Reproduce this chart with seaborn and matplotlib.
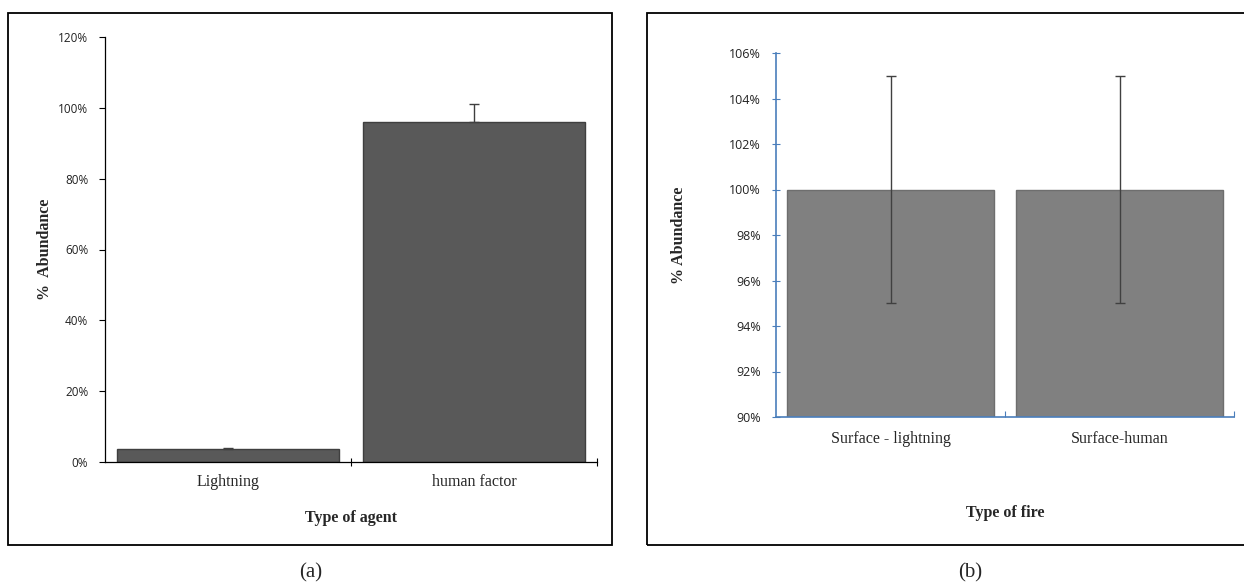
import numpy as np
import pandas as pd
import matplotlib
matplotlib.use("Agg")
import matplotlib.pyplot as plt
from matplotlib.patches import Rectangle
from matplotlib.ticker import FuncFormatter, FixedLocator
import seaborn as sns

# panel (a) data
agents = ["Lightning", "human factor"]
abundance_agent = [3.7, 96.0]
err_agent = [0.3, 5.0]

# panel (b) data
fire_types = ["Surface - lightning", "Surface-human"]
abundance_fire = [100.0, 100.0]
err_fire = [5.0, 5.0]

sns.set_theme(style="white")
plt.rcParams["font.family"] = ["Open Sans", "DejaVu Sans"]
SERIF = ["Liberation Serif", "DejaVu Serif"]

W, H = 1244, 585
fig = plt.figure(figsize=(W / 100, H / 100), dpi=100)
fig.patch.set_facecolor("white")

def px_axes(l, r, t, b):
    return fig.add_axes([l / W, 1 - b / H, (r - l) / W, (b - t) / H])

# frames around the two panels
for x0, x1 in [(8, 612), (647, 1246)]:
    fig.patches.append(Rectangle((x0 / W, 1 - 545 / H), (x1 - x0) / W, (545 - 13) / H,
                                 transform=fig.transFigure, fill=False,
                                 edgecolor="black", linewidth=1.3))

pct = FuncFormatter(lambda v, p: f"{v:.0f}%")

# ---- (a)
ax1 = px_axes(105, 597, 37, 462)
df_a = pd.DataFrame({"agent": agents, "abundance": abundance_agent})
sns.barplot(data=df_a, x="agent", y="abundance", color="#595959", saturation=1,
            width=0.9, edgecolor="#3f3f3f", linewidth=1, ax=ax1)
ax1.errorbar(range(len(agents)), abundance_agent,
             yerr=[np.zeros(len(agents)), err_agent], fmt="none",
             ecolor="#3f3f3f", elinewidth=1, capsize=3.5, capthick=1)
ax1.set_xlim(-0.5, 1.5)
ax1.set_ylim(0, 120)
ax1.set_yticks(range(0, 121, 20))
ax1.yaxis.set_major_formatter(pct)
ax1.tick_params(axis="y", direction="out", length=4, width=0.8, color="black",
                labelsize=8.5, pad=8, left=True, labelcolor="#222222")
ax1.tick_params(axis="x", length=0, pad=9)
ax1.xaxis.set_minor_locator(FixedLocator([0.5, 1.5]))
ax1.tick_params(axis="x", which="minor", direction="inout", length=6, width=0.8,
                color="black", bottom=True)
for lab in ax1.get_xticklabels():
    lab.set_family(SERIF)
    lab.set_fontsize(11.5)
for s in ["top", "right"]:
    ax1.spines[s].set_visible(False)
for s in ["left", "bottom"]:
    ax1.spines[s].set_color("black")
    ax1.spines[s].set_linewidth(0.9)
ax1.set_xlabel("Type of agent", family=SERIF, fontsize=11.5, fontweight="bold", labelpad=14)
ax1.set_ylabel("%  Abundance", family=SERIF, fontsize=11.5, fontweight="bold", labelpad=4)

# ---- (b)
blue = "#4A7EBB"
ax2 = px_axes(776, 1234, 53, 417)
df_b = pd.DataFrame({"fire": fire_types, "abundance": abundance_fire})
sns.barplot(data=df_b, x="fire", y="abundance", color="#808080", saturation=1,
            width=0.9, edgecolor="#6e6e6e", linewidth=1, ax=ax2)
ax2.errorbar(range(len(fire_types)), abundance_fire, yerr=err_fire, fmt="none",
             ecolor="#404040", elinewidth=1, capsize=3.5, capthick=1)
ax2.set_xlim(-0.5, 1.5)
ax2.set_ylim(90, 106)
ax2.set_yticks(range(90, 107, 2))
ax2.yaxis.set_major_formatter(pct)
ax2.tick_params(axis="y", direction="inout", length=6, width=0.8, color=blue,
                labelsize=9, pad=8, left=True, labelcolor="#222222")
ax2.tick_params(axis="x", length=0, pad=10)
ax2.xaxis.set_minor_locator(FixedLocator([0.5, 1.5]))
ax2.tick_params(axis="x", which="minor", direction="in", length=4, width=0.8,
                color=blue, bottom=True)
for lab in ax2.get_xticklabels():
    lab.set_family(SERIF)
    lab.set_fontsize(11.5)
for s in ["top", "right"]:
    ax2.spines[s].set_visible(False)
for s in ["left", "bottom"]:
    ax2.spines[s].set_color(blue)
    ax2.spines[s].set_linewidth(1.2)
ax2.set_xlabel("Type of fire", family=SERIF, fontsize=11.5, fontweight="bold", labelpad=42)
ax2.set_ylabel("% Abundance", family=SERIF, fontsize=11.5, fontweight="bold", labelpad=30)

# captions
fig.text(311 / W, 1 - 573 / H, "(a)", family=SERIF, fontsize=15, ha="center", va="center")
fig.text(970 / W, 1 - 573 / H, "(b)", family=SERIF, fontsize=15, ha="center", va="center")

fig.savefig("out.png", dpi=100, facecolor="white")
